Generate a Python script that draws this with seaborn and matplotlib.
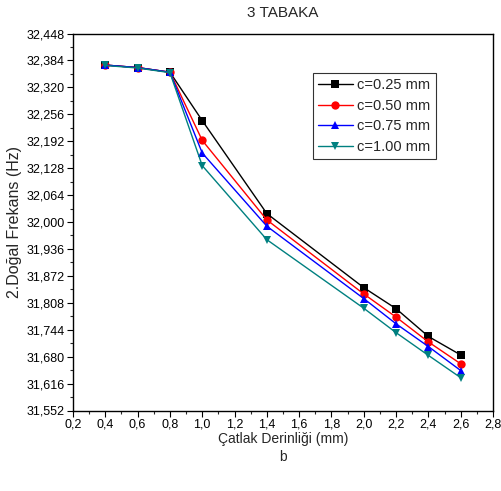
import numpy as np
import pandas as pd
import matplotlib
matplotlib.use("Agg")
import matplotlib.pyplot as plt
from matplotlib.ticker import MultipleLocator, FuncFormatter
import seaborn as sns

# Crack depth (mm)
depth = [0.4, 0.6, 0.8, 1.0, 1.4, 2.0, 2.2, 2.4, 2.6]

# Second natural frequency (Hz) for each crack width
freq_025 = [32.373, 32.367, 32.356, 32.241, 32.020, 31.844, 31.794, 31.728, 31.684]
freq_050 = [32.373, 32.367, 32.356, 32.194, 32.005, 31.829, 31.774, 31.715, 31.663]
freq_075 = [32.373, 32.367, 32.356, 32.164, 31.990, 31.818, 31.758, 31.704, 31.647]
freq_100 = [32.372, 32.366, 32.355, 32.134, 31.958, 31.795, 31.737, 31.683, 31.630]

labels = ["c=0.25 mm", "c=0.50 mm", "c=0.75 mm", "c=1.00 mm"]
colors = ["#000000", "#ff0000", "#0000ff", "#008080"]
markers = ["s", "o", "^", "v"]

df = pd.concat(
    [pd.DataFrame({"depth": depth, "freq": f, "c": lab})
     for f, lab in zip([freq_025, freq_050, freq_075, freq_100], labels)],
    ignore_index=True,
)

sns.set_style("ticks")
plt.rcParams["font.family"] = ["Liberation Sans", "DejaVu Sans"]

fig = plt.figure(figsize=(5.01, 4.91), dpi=100)
ax = fig.add_axes([73 / 501, 1 - 410.5 / 491, 420 / 501, 377 / 491])

sns.lineplot(
    data=df, x="depth", y="freq", hue="c", style="c",
    palette=colors, markers=markers, dashes=False,
    markersize=6, markeredgewidth=0, linewidth=1.0,
    ax=ax,
)

ax.set_xlim(0.2, 2.8)
ax.set_ylim(31.552, 32.448)
ax.xaxis.set_major_locator(MultipleLocator(0.2))
ax.xaxis.set_minor_locator(MultipleLocator(0.1))
ax.set_yticks(np.arange(31.552, 32.449, 0.064))
ax.yaxis.set_minor_locator(MultipleLocator(0.032))
ax.xaxis.set_major_formatter(FuncFormatter(lambda v, p: f"{v:.1f}".replace(".", ",")))
ax.yaxis.set_major_formatter(FuncFormatter(lambda v, p: f"{v:.3f}".replace(".", ",")))

ax.tick_params(axis="both", which="major", direction="out", length=4, width=0.8,
               labelsize=9, colors="black", pad=2)
ax.tick_params(axis="both", which="minor", direction="out", length=2, width=0.8)
for s in ax.spines.values():
    s.set_linewidth(1.0)
    s.set_color("black")

ax.set_xlabel("Çatlak Derinliği (mm)\nb", fontsize=10, labelpad=1, linespacing=1.3)
ax.set_ylabel("2.Doğal Frekans (Hz)", fontsize=11.5, labelpad=3)
ax.set_title("3 TABAKA", fontsize=11, pad=12)

leg = ax.legend(
    loc="upper left", bbox_to_anchor=(0.571, 0.895), fontsize=10.5,
    frameon=True, fancybox=False, edgecolor="black", handlelength=2.4,
    handletextpad=0.3, borderpad=0.35, labelspacing=0.45, borderaxespad=0,
)
leg.get_frame().set_linewidth(0.8)
leg.set_title(None)

fig.savefig("out.png", dpi=100)
